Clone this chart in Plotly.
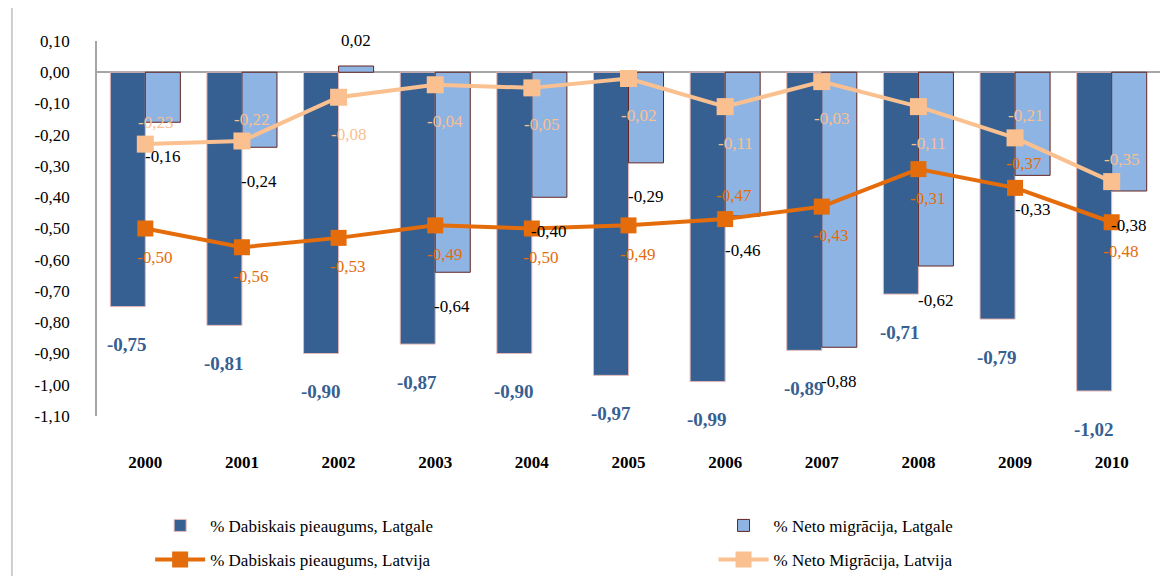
import plotly.graph_objects as go

years = ["2000", "2001", "2002", "2003", "2004", "2005", "2006", "2007", "2008", "2009", "2010"]
dab_latgale = [-0.75, -0.81, -0.90, -0.87, -0.90, -0.97, -0.99, -0.89, -0.71, -0.79, -1.02]
neto_latgale = [-0.16, -0.24, 0.02, -0.64, -0.40, -0.29, -0.46, -0.88, -0.62, -0.33, -0.38]
dab_latvija = [-0.50, -0.56, -0.53, -0.49, -0.50, -0.49, -0.47, -0.43, -0.31, -0.37, -0.48]
neto_latvija = [-0.23, -0.22, -0.08, -0.04, -0.05, -0.02, -0.11, -0.03, -0.11, -0.21, -0.35]
tick_vals = [0.10, 0.00, -0.10, -0.20, -0.30, -0.40, -0.50, -0.60, -0.70, -0.80, -0.90, -1.00, -1.10]

names = ["% Dabiskais pieaugums, Latgale", "% Neto migrācija, Latgale",
         "% Dabiskais pieaugums, Latvija", "% Neto Migrācija, Latvija"]

C_DARK = "#376092"
C_LIGHT = "#8EB4E3"
C_ORANGE = "#E46C0A"
C_PEACH = "#FAC090"
FONT = "Liberation Serif"

def fmt(v):
    return f"{v:.2f}".replace(".", ",")

fig = go.Figure()
fig.add_trace(go.Bar(x=years, y=dab_latgale, name=names[0], legend="legend", legendgroup="a",
                     marker=dict(color=C_DARK, line=dict(color="#E6B9B8", width=1))))
fig.add_trace(go.Bar(x=years, y=neto_latgale, name=names[1], legend="legend2", legendgroup="b",
                     marker=dict(color=C_LIGHT, line=dict(color="#632523", width=1))))
fig.add_trace(go.Scatter(x=years, y=dab_latvija, name=names[2], mode="lines+markers",
                         legend="legend", legendgroup="c",
                         line=dict(color=C_ORANGE, width=4),
                         marker=dict(symbol="square", size=16, color=C_ORANGE)))
fig.add_trace(go.Scatter(x=years, y=neto_latvija, name=names[3], mode="lines+markers",
                         legend="legend2", legendgroup="d",
                         line=dict(color=C_PEACH, width=4),
                         marker=dict(symbol="square", size=17, color=C_PEACH)))

ann = []
for i, y in enumerate(years):
    # x given as category index on the category axis
    ann.append(dict(x=i, y=dab_latgale[i], text=fmt(dab_latgale[i]), showarrow=False,
                    xshift=-18, yshift=-38,
                    font=dict(family=FONT, size=19, color=C_DARK, weight="bold")))
    v = neto_latgale[i]
    ann.append(dict(x=i, y=v, text=fmt(v), showarrow=False,
                    xshift=17, yshift=(26 if v > 0 else -34),
                    font=dict(family=FONT, size=17, color="black")))
    v = dab_latvija[i]
    above = i in (6, 9)
    ann.append(dict(x=i, y=v, text=fmt(v), showarrow=False,
                    xshift=9, yshift=(24 if above else -29),
                    font=dict(family=FONT, size=17, color=C_ORANGE)))
    v = neto_latvija[i]
    above = i in (0, 1, 9, 10)
    ann.append(dict(x=i, y=v, text=fmt(v), showarrow=False,
                    xshift=10, yshift=(22 if above else -37),
                    font=dict(family=FONT, size=17, color=C_PEACH)))

leg_common = dict(orientation="v", xanchor="left", yanchor="top", y=-0.245,
                  font=dict(family=FONT, size=17, color="black"),
                  itemwidth=50, tracegroupgap=9, bgcolor="rgba(0,0,0,0)")

# page body has an 8px default margin, so the figure is sized to compensate
fig.update_layout(
    width=1163, height=568,
    margin=dict(l=89, r=11, t=33, b=160, autoexpand=False),
    paper_bgcolor="white", plot_bgcolor="white",
    barmode="group", bargap=0.275, bargroupgap=0,
    font=dict(family=FONT, size=16, color="black"),
    annotations=ann,
    showlegend=True,
    legend=dict(x=0.05, **leg_common),
    legend2=dict(x=0.58, **leg_common),
    xaxis=dict(type="category", range=[-0.5, 10.5], showgrid=False, showline=False, ticks="",
               automargin=False, ticklabelstandoff=34,
               tickfont=dict(family=FONT, size=17, color="black", weight="bold")),
    yaxis=dict(range=[-1.10, 0.10], tickvals=tick_vals, ticktext=[fmt(t) for t in tick_vals],
               showgrid=False, showline=True, linecolor="#A6A6A6", linewidth=1.5,
               zeroline=True, zerolinecolor="#A6A6A6", zerolinewidth=1.5,
               ticks="", ticklabelstandoff=22, automargin=False,
               tickfont=dict(family=FONT, size=17, color="black")),
    shapes=[dict(type="line", xref="paper", yref="paper", x0=-0.08, x1=-0.08,
                 y0=-0.43, y1=1.11, line=dict(color="#BFBFBF", width=1.5))],
)

fig.write_html("out.html")
